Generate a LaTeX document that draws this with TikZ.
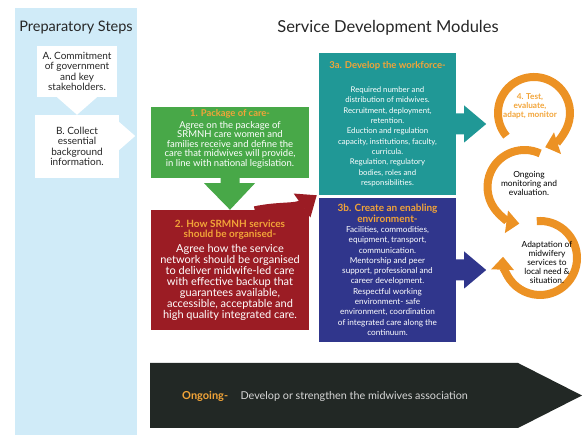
\documentclass[tikz,border=0pt]{standalone}
\usepackage{fontspec}
\setmainfont{Lato}
\usetikzlibrary{positioning, arrows.meta}

\definecolor{panelblue}{RGB}{208,235,248}
\definecolor{modgreen}{RGB}{72,168,72}
\definecolor{modred}{RGB}{155,28,36}
\definecolor{modteal}{RGB}{32,152,150}
\definecolor{modblue}{RGB}{48,54,140}
\definecolor{cycleorange}{RGB}{236,146,36}
\definecolor{headorange}{RGB}{242,164,56}
\definecolor{darkbar}{RGB}{34,40,37}
\definecolor{bartext}{RGB}{215,215,215}

\newcommand{\boxhead}[2][10]{\textcolor{headorange}{\bfseries\fontsize{#1}{11}\selectfont #2}}

\begin{document}
\begin{tikzpicture}[
    x=1pt, y=1pt,
    title/.style={text=black!85},
    prepbox/.style={fill=white, inner sep=0pt},
    preptext/.style={align=center, text=black!85, font=\fontsize{10}{10.5}\selectfont},
    modbox/.style={inner sep=0pt},
    modtext/.style={align=center, text=white, inner sep=0pt},
    cyclearr/.style={line width=8pt, cycleorange, -{Triangle[width=22pt,length=13pt]}},
    cycletext/.style={align=center, inner sep=0pt, font=\fontsize{8.4}{9}\selectfont}
]
\useasboundingbox (0,0) rectangle (584,435);

% Preparatory steps
\node[fill=panelblue, anchor=south west, inner sep=0pt, minimum width=122, minimum height=427] (prep) at (15,0) {};
\node[title, font=\fontsize{14.5}{16}\selectfont] (preptitle) at (76,407) {Preparatory Steps};

\node[prepbox, minimum width=80, minimum height=51] (stepA) at (77,363.5) {};
\node[preptext] at (stepA) {A. Commitment\\of government\\and key\\stakeholders.};
\node[prepbox, minimum width=84, minimum height=63] (stepB) at (77,288.5) {};
\node[preptext] at (stepB) {B. Collect\\essential\\background\\information.};

\fill[white] ([xshift=-20]stepA.south) -- ([xshift=20]stepA.south) -- (stepB.north) -- cycle;
\fill[white] ([yshift=24.5]stepB.east) -- ([xshift=16,yshift=10.5]stepB.east) -- ([yshift=-3.5]stepB.east) -- cycle;

% Service development modules
\node[title, font=\fontsize{16.5}{18}\selectfont] (modtitle) at (388,407) {Service Development Modules};

\node[modbox, fill=modgreen, minimum width=158, minimum height=71] (package) at (230,292.5) {};
\node[modtext, font=\fontsize{9.5}{9.4}\selectfont] (packagetext) at ([yshift=4]package) {%
    \boxhead[9.4]{1. Package of care-}\\[3pt]
    Agree on the package of\\SRMNH care women and\\families receive and define the\\
    care that midwives will provide,\\in line with national legislation.};

\node[modbox, fill=modred, minimum width=158, minimum height=120] (organise) at (230,165) {};
\node[modtext, font=\fontsize{11}{11}\selectfont] (organisetext) at (organise) {%
    \boxhead{2. How SRMNH services}\\[-1pt]\boxhead{should be organised-}\\[4pt]
    Agree how the service\\network should be organised\\to deliver midwife-led care\\
    with effective backup that\\guarantees available,\\accessible, acceptable and\\
    high quality integrated care.};

\node[modbox, fill=modteal, minimum width=137, minimum height=142] (workforce) at (387.5,311) {};
\node[modtext, font=\fontsize{7.8}{10.3}\selectfont] (workforcetext) at (workforce) {%
    \boxhead[9.5]{3a. Develop the workforce-}\\[14pt]
    Required number and\\distribution of midwives.\\Recruitment, deployment,\\retention.\\
    Eduction and regulation\\capacity, institutions, faculty,\\curricula.\\
    Regulation, regulatory\\bodies, roles and\\responsibilities.};

\node[modbox, fill=modblue, minimum width=137, minimum height=144] (environment) at (387.5,165) {};
\node[modtext, font=\fontsize{8.2}{10.3}\selectfont] (environmenttext) at (environment) {%
    \boxhead{3b. Create an enabling}\\\boxhead{environment-}\\
    Facilities, commodities,\\equipment, transport,\\communication.\\
    Mentorship and peer\\support, professional and\\career development.\\
    Respectful working\\environment- safe\\environment, coordination\\
    of integrated care along the\\continuum.};

% Block arrows between modules
\fill[modgreen] ([xshift=-9.5]package.south) -- ([xshift=-9.5,yshift=-5]package.south)
    -- ([xshift=-26,yshift=-5]package.south) -- (organise.north)
    -- ([xshift=25,yshift=-5]package.south) -- ([xshift=9.5,yshift=-5]package.south)
    -- ([xshift=9.5]package.south) -- cycle;
\draw[modred, line width=11pt, -{Triangle[width=28pt,length=18pt]}]
    ([xshift=25,yshift=-2]organise.north) to[out=12, in=215] ([xshift=-2]workforce.south west);
\foreach \mod/\col in {workforce/modteal, environment/modblue}
    \fill[\col] ([yshift=10.5]\mod.east) -- ++(8,0) -- ++(0,8) -- ++(22,-18.5)
        -- ++(-22,-18.5) -- ++(0,8) -- ++(-8,0) -- cycle;

% Test, evaluate, adapt cycle
\coordinate (c1) at (534,322);
\coordinate (c2) at (524.5,248);
\coordinate (c3) at (540,177);

\draw[cyclearr] ([shift={(220:36pt)}]c1) arc[start angle=220, end angle=-72, radius=36pt];
\draw[cyclearr] ([shift={(65:37pt)}]c2) arc[start angle=65, end angle=262, radius=37pt];
\draw[cyclearr] ([shift={(95:37pt)}]c3) arc[start angle=95, end angle=-182, radius=37pt];

\node[cycletext, text=headorange, font=\bfseries\fontsize{8.2}{9}\selectfont] (test) at (530,329) {4. Test,\\evaluate,\\adapt, monitor};
\node[cycletext] (monitoring) at (529,252) {Ongoing\\monitoring and\\evaluation.};
\node[cycletext] (adaptation) at (547,173) {Adaptation of\\midwifery\\services to\\local need \&\\situation.};

% Ongoing bar
\fill[darkbar] (150,72) -- (518,72) -- (582,39.5) -- (518,7) -- (150,7) -- cycle;
\node[anchor=west, inner sep=0pt, font=\bfseries\fontsize{11}{12}\selectfont, text=headorange] (ongoing) at (182,38.5) {Ongoing-};
\node[right=12pt of ongoing, inner sep=0pt, font=\fontsize{10.8}{12}\selectfont, text=bartext] (association) {Develop or strengthen the midwives association};

\end{tikzpicture}
\end{document}
